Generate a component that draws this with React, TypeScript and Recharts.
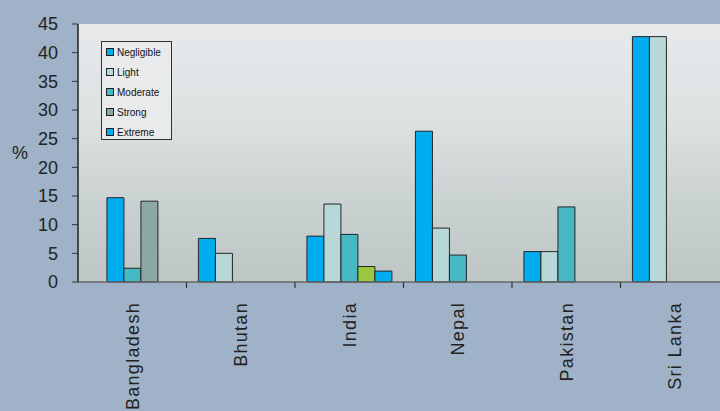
import React from 'react';
import { BarChart, Bar, XAxis, YAxis, CartesianGrid, Legend, Cell } from 'recharts';

const categories = ['Bangladesh', 'Bhutan', 'India', 'Nepal', 'Pakistan', 'Sri Lanka'];
const seriesNames = ['Negligible', 'Light', 'Moderate', 'Strong', 'Extreme'];
const negligible = [null, 7.6, 8.0, 26.3, 5.3, 42.8];
const light = [14.7, 5.0, 13.6, 9.4, 5.3, 42.8];
const moderate = [2.4, null, 8.3, 4.7, 13.1, null];
const strong = [14.1, null, 2.7, null, null, null];
const extreme = [null, null, 1.9, null, null, null];
const yTicks = [0, 5, 10, 15, 20, 25, 30, 35, 40, 45];

const BLUE = '#00AEEF';
const LIGHT = '#B8D8D8';
const TEAL = '#45B8C4';
const GRAY = '#8AA8A6';
const GREEN = '#9AC73F';
const STROKE = '#262626';
const FONT = '"Liberation Sans", Arial, sans-serif';

const CHART_W = 740;
const CHART_H = 411;
const MARGIN = { top: 24, right: 11, bottom: 0, left: 0 };
const Y_W = 78;
const BAND = (CHART_W - MARGIN.left - MARGIN.right - Y_W) / categories.length;

const data = categories.map((name, i) => ({
  name,
  Negligible: negligible[i],
  Light: light[i],
  Moderate: moderate[i],
  Strong: strong[i],
  Extreme: extreme[i],
}));

const CatTick = (props: any) => {
  const { x, y, payload, index } = props;
  const ty = y + 20;
  const sx = x + BAND / 2;
  return (
    <g>
      {index < categories.length - 1 && (
        <line x1={sx} y1={y} x2={sx} y2={y + 6} stroke="#333" strokeWidth={1.2} />
      )}
      <text
        x={x}
        y={ty}
        dy="0.36em"
        transform={`rotate(-90, ${x}, ${ty})`}
        textAnchor="end"
        fontFamily={FONT}
        fontSize={18}
        letterSpacing={1.3}
        fill="#222"
      >
        {payload.value}
      </text>
    </g>
  );
};

const LegendBox = (props: any) => {
  const payload: any[] = props.payload || [];
  const ordered = seriesNames
    .map((n) => payload.find((p: any) => p.value === n || p.dataKey === n))
    .filter(Boolean);
  return (
    <div
      style={{
        width: 71,
        height: 99,
        boxSizing: 'border-box',
        border: '1px solid #333',
        background: '#e8eaeb',
        paddingTop: 0,
        fontFamily: FONT,
      }}
    >
      {ordered.map((p: any) => (
        <div key={p.value} style={{ height: 20, display: 'flex', alignItems: 'center' }}>
          <span
            style={{
              display: 'inline-block',
              width: 6,
              height: 6,
              marginLeft: 4,
              marginRight: 3,
              border: '1px solid #222',
              background: p.color,
            }}
          />
          <span style={{ fontSize: 10, color: '#111' }}>{p.value}</span>
        </div>
      ))}
    </div>
  );
};

export default function App() {
  return (
    <div
      style={{
        position: 'fixed',
        left: 0,
        top: 0,
        width: 720,
        height: 411,
        overflow: 'hidden',
        background: '#A0B2C8',
      }}
    >
      <BarChart
        width={CHART_W}
        height={CHART_H}
        data={data}
        margin={MARGIN}
        barCategoryGap="11%"
        barGap={0}
      >
        <defs>
          <linearGradient id="plotBg" x1="0" y1="0" x2="0" y2="1">
            <stop offset="0%" stopColor="#e7e9eb" />
            <stop offset="35%" stopColor="#dee2e3" />
            <stop offset="70%" stopColor="#cad1d1" />
            <stop offset="100%" stopColor="#bdc5c5" />
          </linearGradient>
        </defs>
        <CartesianGrid horizontal={false} vertical={false} fill="url(#plotBg)" stroke="none" />
        <XAxis
          dataKey="name"
          height={129}
          axisLine={{ stroke: '#666', strokeWidth: 1.5 }}
          tickLine={false}
          tickSize={0}
          tickMargin={0}
          interval={0}
          tick={<CatTick />}
        />
        <YAxis
          domain={[0, 45]}
          ticks={yTicks}
          width={Y_W}
          interval={0}
          axisLine={{ stroke: '#222', strokeWidth: 1.5 }}
          tickLine={{ stroke: '#333' }}
          tickSize={6}
          tickMargin={14}
          tick={{ fontFamily: FONT, fontSize: 18, fill: '#222' }}
          label={{ value: '%', position: 'insideLeft', offset: 12, style: { fontFamily: FONT, fontSize: 18, fill: '#222' } }}
        />
        <Legend
          layout="vertical"
          align="center"
          verticalAlign="middle"
          content={<LegendBox />}
          wrapperStyle={{ position: 'absolute', left: 101, top: 41, width: 71, height: 99 }}
        />
        <Bar dataKey="Negligible" fill={BLUE} stroke={STROKE} strokeWidth={1} isAnimationActive={false} />
        <Bar dataKey="Light" fill={LIGHT} stroke={STROKE} strokeWidth={1} isAnimationActive={false}>
          {categories.map((c) => (
            <Cell key={c} fill={c === 'Bangladesh' ? BLUE : LIGHT} />
          ))}
        </Bar>
        <Bar dataKey="Moderate" fill={TEAL} stroke={STROKE} strokeWidth={1} isAnimationActive={false} />
        <Bar dataKey="Strong" fill={GRAY} stroke={STROKE} strokeWidth={1} isAnimationActive={false}>
          {categories.map((c) => (
            <Cell key={c} fill={c === 'India' ? GREEN : GRAY} />
          ))}
        </Bar>
        <Bar dataKey="Extreme" fill={BLUE} stroke={STROKE} strokeWidth={1} isAnimationActive={false} />
      </BarChart>
    </div>
  );
}
